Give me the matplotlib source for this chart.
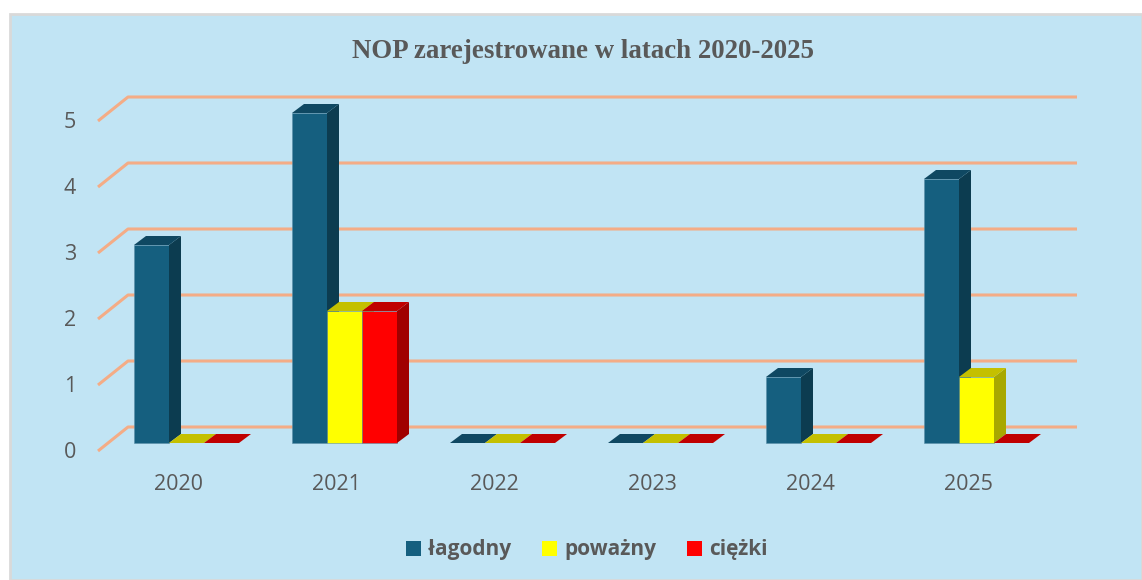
import numpy as np
import matplotlib
matplotlib.use("Agg")
import matplotlib.pyplot as plt
from matplotlib.patches import Polygon, Rectangle, Patch

# data
years = ['2020', '2021', '2022', '2023', '2024', '2025']
lagodny = [3, 5, 0, 0, 1, 4]
powazny = [0, 2, 0, 0, 0, 1]
ciezki = [0, 2, 0, 0, 0, 0]
series_names = ['łagodny', 'poważny', 'ciężki']
y_ticks = [0, 1, 2, 3, 4, 5]

# colours: front, side, top
colors = [
    ('#155F7F', '#0C3C50', '#0F4862'),
    ('#FFFF00', '#A8A800', '#C4C000'),
    ('#FF0000', '#A00000', '#C00000'),
]
bg = '#C1E4F4'
grid_c = '#F4AC86'
text_c = '#595959'

W, H = 1142, 580
fig = plt.figure(figsize=(W / 100, H / 100), dpi=100)
fig.patch.set_facecolor('white')
fig.patches.append(Rectangle((10 / W, 0), 1 - 10 / W, 1 - 14 / H, transform=fig.transFigure,
                             facecolor=bg, edgecolor='#D9D9D9', linewidth=2, zorder=-5))

# pixel layout -> data units
px_x = 158.0   # pixels per category
px_y = 66.0    # pixels per unit value
x0 = 186.5     # pixel x of first group centre
y0 = 443.0     # pixel y (from top) of value 0 on bar front

ax = fig.add_axes([0, 0, 1, 1])
ax.set_xlim(-x0 / px_x, (W - x0) / px_x)
ax.set_ylim((y0 - H) / px_y, y0 / px_y)
ax.axis('off')

bw = 35 / px_x          # bar width
ddx = 12 / px_x         # depth offset of bars
ddy = 9 / px_y

# floor / wall gridlines
back_l = (128 - x0) / px_x
back_r = (1077 - x0) / px_x
front_l = (98 - x0) / px_x
g_back = 16 / px_y
g_front = -8 / px_y
for v in y_ticks:
    ax.plot([front_l, back_l, back_r], [v + g_front, v + g_back, v + g_back],
            color=grid_c, lw=2.2, solid_capstyle='butt', zorder=1)
    ax.text((70 - x0) / px_x, v - 10 / px_y, str(v), ha='center', va='center',
            fontsize=15.5, color=text_c, family='Open Sans')


def bar3d(x, h, cols):
    front, side, top = cols
    if h > 0:
        ax.add_patch(Rectangle((x, 0), bw, h, facecolor=front, edgecolor='#5A8FA8',
                               lw=0.4, zorder=3))
        ax.add_patch(Polygon([(x + bw, 0), (x + bw + ddx, ddy), (x + bw + ddx, h + ddy), (x + bw, h)],
                             closed=True, facecolor=side, edgecolor='none', zorder=3))
    ax.add_patch(Polygon([(x, h), (x + ddx, h + ddy), (x + bw + ddx, h + ddy), (x + bw, h)],
                         closed=True, facecolor=top, edgecolor='none', zorder=3))


series = [lagodny, powazny, ciezki]
for i in range(len(years)):
    left = i - 1.5 * bw
    for s in range(3):
        bar3d(left + s * bw, series[s][i], colors[s])
    ax.text(i - 8.5 / px_x, (y0 - 484) / px_y, years[i], ha='center', va='center',
            fontsize=15.5, color=text_c, family='Open Sans')

fig.text(583 / W, 1 - 51 / H, 'NOP zarejestrowane w latach 2020-2025', ha='center', va='center',
         fontsize=19.4, fontweight='bold', color=text_c, family='Liberation Serif')

handles = [Patch(facecolor=c[0], edgecolor='none') for c in colors]
leg = fig.legend(handles, series_names, loc='center', bbox_to_anchor=(587 / W, 1 - 550 / H),
                 ncol=3, frameon=False, handlelength=0.7, handleheight=0.7, handletextpad=0.35,
                 columnspacing=1.5, prop={'family': 'Open Sans', 'weight': 'bold', 'size': 15})
for t in leg.get_texts():
    t.set_color(text_c)

fig.savefig('out.png', dpi=100, facecolor='white')
